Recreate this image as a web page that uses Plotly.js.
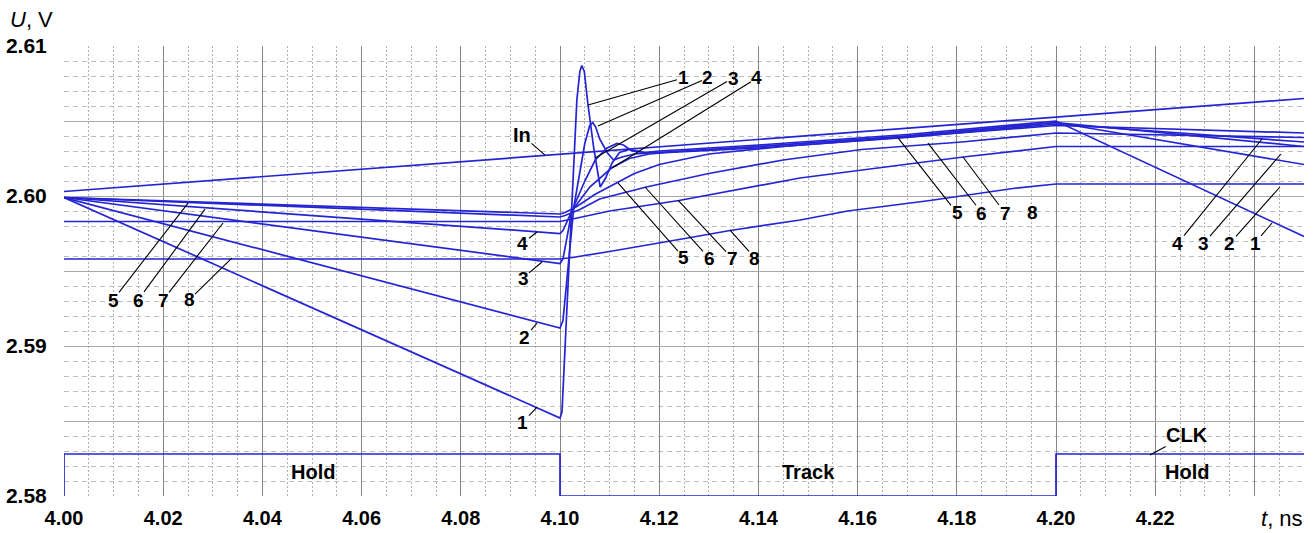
<!DOCTYPE html>
<html>
<head>
<meta charset="utf-8">
<script src="https://cdn.plot.ly/plotly-3.0.1.min.js"></script>
<style>html,body{margin:0;padding:0;background:#fff;}#chart{width:1316px;height:533px;}</style>
</head>
<body>
<div id="chart"></div>
<script>
// ---- data (time in ns, voltage in V) ----
const tIn = [4.00, 4.25];
const vIn = [2.6003, 2.6065];

const tClk = [4.00, 4.00, 4.10, 4.10, 4.20, 4.20, 4.25];
const vClk = [2.5800, 2.5828, 2.5828, 2.5800, 2.5800, 2.5828, 2.5828];

const t1 = [4.000, 4.1000, 4.1004, 4.1024, 4.1034, 4.1040, 4.1044, 4.1049, 4.1056, 4.1068, 4.1081, 4.1092, 4.1105, 4.1120, 4.1140, 4.1170, 4.1200, 4.1400, 4.1700, 4.2000, 4.2500];
const v1 = [2.5999, 2.5852, 2.5856, 2.5993, 2.6064, 2.6083, 2.6087, 2.6083, 2.6062, 2.6032, 2.6006, 2.6012, 2.6022, 2.6029, 2.6031, 2.6029, 2.6030, 2.6034, 2.6041, 2.6050, 2.5973];

const t2 = [4.000, 4.1000, 4.1006, 4.1028, 4.1050, 4.1060, 4.1066, 4.1072, 4.1080, 4.1095, 4.1108, 4.1125, 4.1150, 4.1200, 4.1400, 4.1700, 4.2000, 4.2500];
const v2 = [2.5999, 2.5912, 2.5917, 2.5993, 2.6035, 2.6047, 2.6049, 2.6046, 2.6038, 2.6029, 2.6024, 2.6026, 2.6028, 2.6029, 2.6033, 2.6040, 2.6049, 2.6021];

const t3 = [4.000, 4.1000, 4.1006, 4.1024, 4.1050, 4.1071, 4.1095, 4.1115, 4.1128, 4.1145, 4.1170, 4.1200, 4.1400, 4.1700, 4.2000, 4.2500];
const v3 = [2.5999, 2.5955, 2.5958, 2.5990, 2.6010, 2.6024, 2.6032, 2.6035, 2.6034, 2.6030, 2.6029, 2.6029, 2.6033, 2.6040, 2.6049, 2.6033];

const t4 = [4.000, 4.1000, 4.1006, 4.1024, 4.1060, 4.1105, 4.1140, 4.1180, 4.1220, 4.1400, 4.1700, 4.2000, 4.2500];
const v4 = [2.5999, 2.5975, 2.5977, 2.5990, 2.6006, 2.6019, 2.6025, 2.6028, 2.6029, 2.6032, 2.6039, 2.6048, 2.6036];

const t5 = [4.000, 4.1000, 4.1010, 4.1034, 4.1070, 4.1117, 4.1150, 4.1200, 4.1300, 4.1450, 4.1685, 4.2000, 4.2500];
const v5 = [2.5999, 2.5988, 2.5989, 2.5993, 2.6001, 2.6009, 2.6015, 2.6021, 2.6028, 2.6033, 2.6039, 2.6047, 2.6042];

const t6 = [4.000, 4.1000, 4.1010, 4.1040, 4.1080, 4.1174, 4.1300, 4.1450, 4.1608, 4.1810, 4.2000, 4.2500];
const v6 = [2.5999, 2.5986, 2.5987, 2.5991, 2.5998, 2.6006, 2.6015, 2.6024, 2.6031, 2.6036, 2.6042, 2.6039];

const t7 = [4.000, 4.1000, 4.1030, 4.1100, 4.1240, 4.1484, 4.1813, 4.2000, 4.2500];
const v7 = [2.5983, 2.5983, 2.5985, 2.5990, 2.5997, 2.6012, 2.6026, 2.6033, 2.6033];

const t8 = [4.000, 4.1000, 4.1025, 4.1100, 4.1240, 4.1343, 4.1484, 4.1580, 4.1746, 4.1913, 4.2000, 4.2500];
const v8 = [2.5958, 2.5958, 2.5959, 2.5963, 2.5971, 2.5977, 2.5984, 2.5990, 2.5997, 2.6005, 2.6008, 2.6008];

const xTickVals = [4.00, 4.02, 4.04, 4.06, 4.08, 4.10, 4.12, 4.14, 4.16, 4.18, 4.20, 4.22, 4.24];
const xTickText = ['4.00', '4.02', '4.04', '4.06', '4.08', '4.10', '4.12', '4.14', '4.16', '4.18', '4.20', '4.22', ''];
const yTickVals = [2.580, 2.585, 2.590, 2.595, 2.600, 2.605, 2.610];
const yTickText = ['2.58', '', '2.59', '', '2.60', '', '2.61'];

// ---- styling ----
const BLUE = '#2424d4';
const FONT = 'Liberation Sans, Arial, sans-serif';
function line(x, y, name) {
  return {x: x, y: y, name: name, type: 'scatter', mode: 'lines',
          line: {color: BLUE, width: 1.7}, cliponaxis: false, hoverinfo: 'skip'};
}
const traces = [
  line(tIn, vIn, 'In'), line(tClk, vClk, 'CLK'),
  line(t1, v1, '1'), line(t2, v2, '2'), line(t3, v3, '3'), line(t4, v4, '4'),
  line(t5, v5, '5'), line(t6, v6, '6'), line(t7, v7, '7'), line(t8, v8, '8')
];

function lab(text, x, y, ax, ay) {
  return {text: '<b>' + text + '</b>', x: x, y: y, xref: 'x', yref: 'y', ax: ax, ay: ay,
          showarrow: true, arrowhead: 0, arrowwidth: 1.1, arrowcolor: '#000',
          font: {family: FONT, size: 19, color: '#000'}, borderpad: 0};
}
function plain(text, x, y, size) {
  return {text: '<b>' + text + '</b>', x: x, y: y, xref: 'x', yref: 'y', showarrow: false,
          font: {family: FONT, size: size, color: '#000'}};
}
const annotations = [
  // near the sampling edge (top group)
  lab('1', 4.10565, 2.60607, 95, -27),
  lab('2', 4.10766, 2.60467, 110, -48),
  lab('3', 4.10706, 2.60253, 138, -80),
  lab('4', 4.11048, 2.60187, 145, -90),
  // middle 5-8
  lab('5', 4.11169, 2.60087, 66, 75),
  lab('6', 4.11714, 2.60060, 64, 71),
  lab('7', 4.12379, 2.59973, 54, 58),
  lab('8', 4.13427, 2.59773, 25, 28),
  // right-middle 5-8
  lab('5', 4.16815, 2.60387, 59, 75),
  lab('6', 4.17419, 2.60353, 54, 70),
  lab('7', 4.18125, 2.60260, 42, 56),
  lab('8', 4.19133, 2.60047, 19, 24),
  // right 4 3 2 1
  lab('4', 4.24153, 2.60380, -84, 104),
  lab('3', 4.24536, 2.60280, -77, 89),
  lab('2', 4.24516, 2.60060, -50, 56),
  lab('1', 4.24355, 2.59820, -17, 20),
  // left 5-8
  lab('5', 4.02500, 2.59953, -75, 97),
  lab('6', 4.02843, 2.59913, -67, 91),
  lab('7', 4.03206, 2.59820, -60, 77),
  lab('8', 4.03387, 2.59587, -43, 42),
  // before the edge 4 3 2 1
  lab('4', 4.09536, 2.59760, -14, 11),
  lab('3', 4.09637, 2.59560, -19, 16),
  lab('2', 4.09536, 2.59153, -12, 14),
  lab('1', 4.09536, 2.58593, -14, 15),
  // In and CLK
  Object.assign(lab('In', 4.09698, 2.60273, -23, -20), {font: {family: FONT, size: 20, color: '#000'}}),
  Object.assign(lab('CLK', 4.21895, 2.58273, 37, -20), {font: {family: FONT, size: 20, color: '#000'}}),
  // phases
  plain('Hold', 4.0502, 2.5816, 20),
  plain('Track', 4.1500, 2.5816, 20),
  plain('Hold', 4.2264, 2.5816, 20),
  // axis titles
  {text: '<i>U</i>, V', xref: 'paper', yref: 'paper', x: -0.0452, y: 1.058, xanchor: 'left', yanchor: 'middle',
   showarrow: false, font: {family: FONT, size: 22, color: '#000'}},
  {text: '<i>t</i>, ns', xref: 'paper', yref: 'paper', x: 0.9823, y: -0.051, xanchor: 'center', yanchor: 'middle',
   showarrow: false, font: {family: FONT, size: 22, color: '#000'}}
];

const layout = {
  width: 1316, height: 533,
  margin: {l: 64, r: 12, t: 46, b: 37},
  paper_bgcolor: '#fff', plot_bgcolor: '#fff',
  showlegend: false,
  xaxis: {
    range: [4.00, 4.25], tickmode: 'array', tickvals: xTickVals, ticktext: xTickText,
    showgrid: true, gridcolor: '#858585', gridwidth: 1, zeroline: false, showline: false,
    ticks: 'outside', ticklen: 4, tickcolor: 'rgba(0,0,0,0)',
    tickfont: {family: FONT, size: 20, color: '#000', weight: 'bold'},
    minor: {dtick: 0.005, tick0: 4.0, showgrid: true, gridcolor: '#b0b0b0', griddash: '2px,2px', gridwidth: 1}
  },
  yaxis: {
    range: [2.58, 2.61], tickmode: 'array', tickvals: yTickVals, ticktext: yTickText,
    showgrid: true, gridcolor: '#a8a8a8', gridwidth: 1, zeroline: false, showline: false,
    ticks: 'outside', ticklen: 12, tickcolor: 'rgba(0,0,0,0)',
    tickfont: {family: FONT, size: 21, color: '#000', weight: 'bold'},
    minor: {dtick: 0.001, tick0: 2.58, showgrid: true, gridcolor: '#bdbdbd', griddash: '5px,4px', gridwidth: 1}
  },
  annotations: annotations
};

Plotly.newPlot('chart', traces, layout, {displayModeBar: false, staticPlot: true});
</script>
</body>
</html>
